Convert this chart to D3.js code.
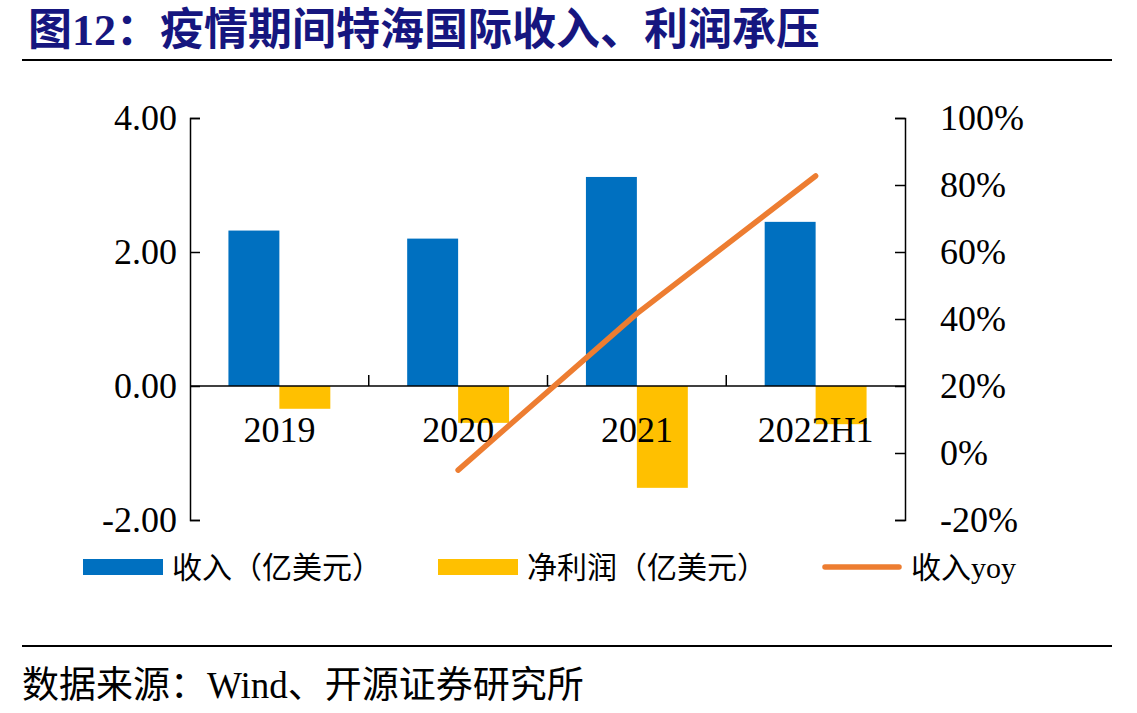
<html>
<head>
    <meta charset="utf-8">
    <title>特海国际收入、利润</title>
    <script src="https://d3js.org/d3.v7.min.js"></script>
    <style>
        body { margin: 0; background: #fff; }
        text { font-family: "Liberation Serif", "Noto Sans CJK SC", serif; }
        .axis path, .axis line { stroke: #000; stroke-width: 1.5px; }
        .axis text { font-size: 36px; fill: #000; }
    </style>
</head>

<body>
<svg width="1137" height="713"></svg>
<script>

    // data
    var categories = ["2019", "2020", "2021", "2022H1"];
    var revenue = [2.32, 2.20, 3.12, 2.45];        // 收入（亿美元）
    var netProfit = [-0.34, -0.55, -1.52, -0.57];  // 净利润（亿美元）
    var revenueYoy = [null, -5.1, 41.6, 82.7];     // 收入yoy (%)
    var leftTicks = [-2, 0, 2, 4];
    var rightTicks = [-20, 0, 20, 40, 60, 80, 100];
    var seriesNames = ["收入（亿美元）", "净利润（亿美元）", "收入yoy"];
    var colors = ["#0070C0", "#FFC000", "#ED7D31"];

    var svg = d3.select("svg");

    var plotLeft = 190, plotRight = 905, plotTop = 118, plotBottom = 520;

    var x = d3.scaleBand()
        .domain(categories)
        .range([plotLeft, plotRight])
        .paddingInner(0.43)
        .paddingOuter(0.215);

    var x1 = d3.scaleBand()
        .domain([0, 1])
        .range([0, x.bandwidth()]);

    var y = d3.scaleLinear().domain([-2, 4]).range([plotBottom, plotTop]);
    var y2 = d3.scaleLinear().domain([-20, 100]).range([plotBottom, plotTop]);

    // title
    svg.append("text")
        .attr("x", 28)
        .attr("y", 45)
        .style("font-size", "44px")
        .style("font-weight", "bold")
        .style("fill", "#16167f")
        .text("图12：疫情期间特海国际收入、利润承压");

    svg.append("line")
        .attr("x1", 22).attr("x2", 1112)
        .attr("y1", 60).attr("y2", 60)
        .attr("stroke", "#000").attr("stroke-width", 2);

    // bars
    var rows = categories.map(function(c, i) {
        return {cat: c, vals: [revenue[i], netProfit[i]]};
    });

    var groups = svg.append("g").selectAll("g")
        .data(rows)
        .enter().append("g")
        .attr("transform", function(d) { return "translate(" + x(d.cat) + ",0)"; });

    groups.selectAll("rect")
        .data(function(d) { return d.vals; })
        .enter().append("rect")
        .attr("x", function(d, i) { return x1(i); })
        .attr("width", x1.bandwidth())
        .attr("y", function(d) { return y(Math.max(d, 0)); })
        .attr("height", function(d) { return Math.abs(y(d) - y(0)); })
        .attr("fill", function(d, i) { return colors[i]; });

    // axes
    svg.append("g")
        .attr("class", "axis")
        .attr("transform", "translate(" + plotLeft + ",0)")
        .call(d3.axisLeft(y).tickValues(leftTicks).tickSize(-10).tickPadding(13)
            .tickFormat(function(d) { return d.toFixed(2); }));

    svg.append("g")
        .attr("class", "axis")
        .attr("transform", "translate(" + plotRight + ",0)")
        .call(d3.axisRight(y2).tickValues(rightTicks).tickSize(-10).tickPadding(35)
            .tickFormat(function(d) { return d + "%"; }));

    // category axis at zero
    var xAxis = svg.append("g").attr("class", "axis");
    xAxis.append("line")
        .attr("x1", plotLeft).attr("x2", plotRight)
        .attr("y1", y(0)).attr("y2", y(0));
    xAxis.selectAll(".sep")
        .data(categories.slice(1))
        .enter().append("line")
        .attr("class", "sep")
        .attr("x1", function(d) { return x(d) - x.step() * x.paddingInner() / 2; })
        .attr("x2", function(d) { return x(d) - x.step() * x.paddingInner() / 2; })
        .attr("y1", y(0)).attr("y2", y(0) - 11);
    xAxis.selectAll(".cat")
        .data(categories)
        .enter().append("text")
        .attr("class", "cat")
        .attr("x", function(d) { return x(d) + x.bandwidth() / 2; })
        .attr("y", 442)
        .attr("text-anchor", "middle")
        .text(function(d) { return d; });

    // yoy line
    var line = d3.line()
        .defined(function(d) { return d != null; })
        .x(function(d, i) { return x(categories[i]) + x.bandwidth() / 2; })
        .y(function(d) { return y2(d); });

    svg.append("path")
        .datum(revenueYoy)
        .attr("d", line)
        .attr("fill", "none")
        .attr("stroke", colors[2])
        .attr("stroke-width", 5.5)
        .attr("stroke-linecap", "round");

    // legend
    var legendX = [83, 438, 822];
    var legend = svg.append("g").selectAll("g")
        .data(seriesNames)
        .enter().append("g")
        .attr("transform", function(d, i) { return "translate(" + legendX[i] + ",567)"; });

    legend.each(function(d, i) {
        var g = d3.select(this);
        if (i < 2) {
            g.append("rect")
                .attr("x", 0).attr("y", -8)
                .attr("width", 80).attr("height", 16)
                .attr("fill", colors[i]);
        } else {
            g.append("line")
                .attr("x1", 3).attr("x2", 77)
                .attr("y1", 0).attr("y2", 0)
                .attr("stroke", colors[i])
                .attr("stroke-width", 5.5)
                .attr("stroke-linecap", "round");
        }
        g.append("text")
            .attr("x", 89)
            .attr("y", 11)
            .style("font-size", "30px")
            .text(d);
    });

    // source
    svg.append("line")
        .attr("x1", 22).attr("x2", 1112)
        .attr("y1", 646).attr("y2", 646)
        .attr("stroke", "#000").attr("stroke-width", 2);

    svg.append("text")
        .attr("x", 22)
        .attr("y", 698)
        .style("font-size", "37px")
        .text("数据来源：Wind、开源证券研究所");

</script>
</body>
</html>
